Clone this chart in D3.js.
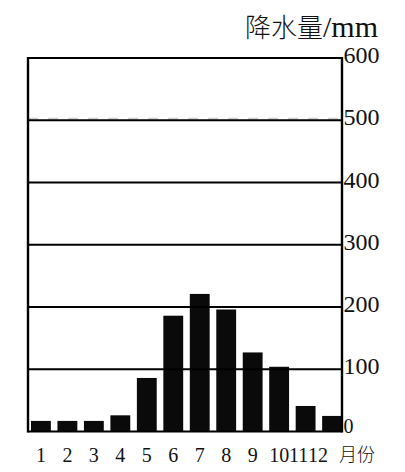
<!DOCTYPE html>
<html>
<head>
<meta charset="utf-8">
<script src="https://cdn.jsdelivr.net/npm/d3@7"></script>
<style>
  html, body { margin: 0; padding: 0; background: #fff; }
  svg { display: block; }
</style>
</head>
<body>
<svg id="chart" width="405" height="472"></svg>
<script>
const months = ["1","2","3","4","5","6","7","8","9","10","11","12"];
const precipitation = [17, 17, 17, 26, 86, 186, 221, 196, 127, 104, 41, 25];
const yTicks = [0, 100, 200, 300, 400, 500, 600];
const yTitleCJK = "降水量";
const yTitleUnit = "/mm";
const xTitle = "月份";

const svg = d3.select("#chart");
const plot = { left: 28, right: 342, top: 58, bottom: 431.5 };

const x = d3.scaleBand().domain(months).range([31, 342]).paddingInner(0.25).paddingOuter(0.0);
const y = d3.scaleLinear().domain([0, 600]).range([plot.bottom, plot.top]);

// faint dashed artefact line near 500
svg.append("line")
  .attr("x1", plot.left).attr("x2", plot.right)
  .attr("y1", y(500) - 1.5).attr("y2", y(500) - 1.5)
  .attr("stroke", "#d0d0d0").attr("stroke-width", 2)
  .attr("stroke-dasharray", "10,10");

// bars
svg.append("g").selectAll("rect")
  .data(months)
  .join("rect")
  .attr("x", d => x(d))
  .attr("width", x.bandwidth())
  .attr("y", (d, i) => y(precipitation[i]))
  .attr("height", (d, i) => y(0) - y(precipitation[i]))
  .attr("fill", "#0a0a0a");

// gridlines
svg.append("g").selectAll("line")
  .data(yTicks)
  .join("line")
  .attr("x1", plot.left).attr("x2", plot.right)
  .attr("y1", d => y(d)).attr("y2", d => y(d))
  .attr("stroke", "#000").attr("stroke-width", 2);

// frame sides
svg.append("line").attr("x1", plot.left).attr("x2", plot.left)
  .attr("y1", plot.top - 1).attr("y2", plot.bottom + 1)
  .attr("stroke", "#000").attr("stroke-width", 2.4);
svg.append("line").attr("x1", plot.right).attr("x2", plot.right)
  .attr("y1", plot.top - 1).attr("y2", plot.bottom + 1)
  .attr("stroke", "#000").attr("stroke-width", 2.4);

// right tick labels
svg.append("g").selectAll("text")
  .data(yTicks)
  .join("text")
  .attr("x", 343.5)
  .attr("y", d => d === 0 ? y(d) + 1 : y(d) + 5)
  .attr("font-family", "'Liberation Serif', serif")
  .attr("font-size", d => d === 0 ? 20 : 24)
  .attr("fill", "#111")
  .text(d => d);

// month labels (the last two are squeezed left as in the original)
const labelShift = i => (i === 10 ? -7 : i === 11 ? -14 : 0);
svg.append("g").selectAll("text")
  .data(months)
  .join("text")
  .attr("x", (d, i) => x(d) + x.bandwidth() / 2 + labelShift(i))
  .attr("y", 462)
  .attr("text-anchor", "middle")
  .attr("font-family", "'Liberation Serif', serif")
  .attr("font-size", 20)
  .attr("fill", "#111")
  .text(d => d);

svg.append("text")
  .attr("x", 339).attr("y", 461)
  .attr("font-family", "'Noto Sans CJK SC', sans-serif")
  .attr("font-size", 18)
  .attr("font-weight", 300)
  .attr("fill", "#111")
  .text(xTitle);

// y title
const t = svg.append("text")
  .attr("x", 378).attr("y", 37)
  .attr("text-anchor", "end")
  .attr("font-size", 26)
  .attr("fill", "#111");
t.append("tspan")
  .attr("font-family", "'Noto Sans CJK SC', sans-serif")
  .attr("font-weight", 300)
  .text(yTitleCJK);
t.append("tspan")
  .attr("font-family", "'Liberation Serif', serif")
  .attr("font-size", 30)
  .text(yTitleUnit);
</script>
</body>
</html>
